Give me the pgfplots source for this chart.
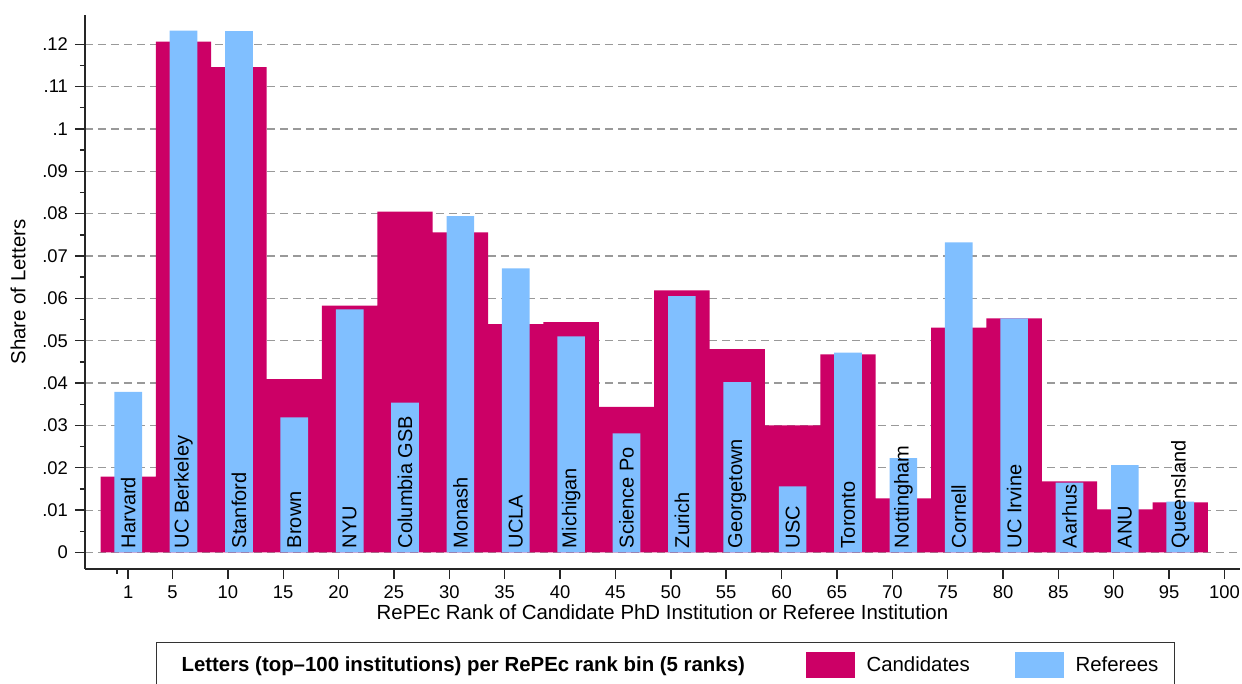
\documentclass[border=0pt]{standalone}
\usepackage{fontspec}
\setmainfont{Liberation Sans}
\usepackage{pgfplots}
\usepackage{pgfplotstable}
\pgfplotsset{compat=1.18}

\definecolor{cand}{RGB}{204,0,102}
\definecolor{refc}{RGB}{128,191,255}

% bins of 5 RePEc ranks, bars centred at 1, 6, 11, ...
\pgfplotstableread[col sep=comma]{
x,cand,ref,name
1,0.0179,0.0379,Harvard
6,0.1206,0.1232,UC Berkeley
11,0.1146,0.1231,Stanford
16,0.0409,0.0319,Brown
21,0.0583,0.0574,NYU
26,0.0805,0.0354,Columbia GSB
31,0.0756,0.0794,Monash
36,0.0539,0.0671,UCLA
41,0.0544,0.0510,Michigan
46,0.0344,0.0281,Science Po
51,0.0619,0.0605,Zurich
56,0.0480,0.0402,Georgetown
61,0.0300,0.0156,USC
66,0.0468,0.0472,Toronto
71,0.0128,0.0223,Nottingham
76,0.0531,0.0732,Cornell
81,0.0553,0.0553,UC Irvine
86,0.0168,0.0165,Aarhus
91,0.0102,0.0206,ANU
96,0.0118,0.0120,Queensland
}\bins

\begin{document}
\begin{tikzpicture}
\useasboundingbox (-42.5pt,-57.5pt) rectangle (578.5pt,284.5pt);
\begin{axis}[
  at={(0,0)}, anchor=south west,
  scale only axis,
  width=577.5pt, height=277pt,
  xmin=-2.9, xmax=101.4,
  ymin=-0.0039, ymax=0.1269,
  axis lines*=left,
  axis line style={line width=0.7pt, black!85},
  tick align=outside,
  major tick length=5pt, minor tick length=2.5pt,
  tick style={line width=0.7pt, black!85},
  xtick={1,5,10,...,100},
  minor xtick={0},
  ytick={0,0.01,...,0.12},
  yticklabels={0,.01,.02,.03,.04,.05,.06,.07,.08,.09,.1,.11,.12},
  minor y tick num=1,
  /pgf/number format/assume math mode=true,
  tick label style={font=\fontsize{9.2}{11}\selectfont},
  ymajorgrids,
  grid style={gray!80, line width=0.6pt, dash pattern=on 4pt off 2.5pt},
  xlabel={RePEc Rank of Candidate PhD Institution or Referee Institution},
  ylabel={Share of Letters},
  every axis x label/.append style={at={(axis description cs:0.5,-0.0776)}, anchor=center, font=\fontsize{10.2}{12}\selectfont},
  every axis y label/.append style={at={(axis description cs:-0.058,0.5)}, anchor=center, rotate=0, font=\fontsize{10.2}{12}\selectfont},
  legend columns=3,
  legend style={at={(axis description cs:0.0611,-0.1312)}, anchor=north west,
    draw=black!80, line width=0.6pt,
    inner xsep=0pt, inner ysep=5pt,
    nodes={inner sep=0pt},
    /tikz/column sep=0pt,
    font=\fontsize{10.2}{12}\selectfont},
]
\addlegendimage{empty legend}
\addlegendentry{\makebox[324.7pt][l]{\hspace{12.7pt}\textbf{Letters (top\textendash100 institutions) per RePEc rank bin (5 ranks)}}}

\addplot[ybar, bar width=5, bar shift=0pt, fill=cand, draw=none,
  legend image code/.code={\fill[cand] (0pt,-6.5pt) rectangle (24.5pt,6.5pt);}]
  table[x=x, y=cand] {\bins};
\addlegendentry{\makebox[80pt][l]{\hspace{6pt}Candidates}}

\addplot[ybar, bar width=2.5, bar shift=0pt, fill=refc, draw=none,
  legend image code/.code={\fill[refc] (0pt,-6.5pt) rectangle (24.5pt,6.5pt);}]
  table[x=x, y=ref] {\bins};
\addlegendentry{\makebox[55.5pt][l]{\hspace{6pt}Referees}}

\addplot[forget plot, draw=none, mark=none,
  nodes near coords, point meta=explicit symbolic,
  nodes near coords style={rotate=90, anchor=west, inner sep=2pt,
    font=\fontsize{10}{12}\selectfont, text=black}]
  table[x=x, y expr=0, meta=name] {\bins};
\end{axis}
\end{tikzpicture}
\end{document}
